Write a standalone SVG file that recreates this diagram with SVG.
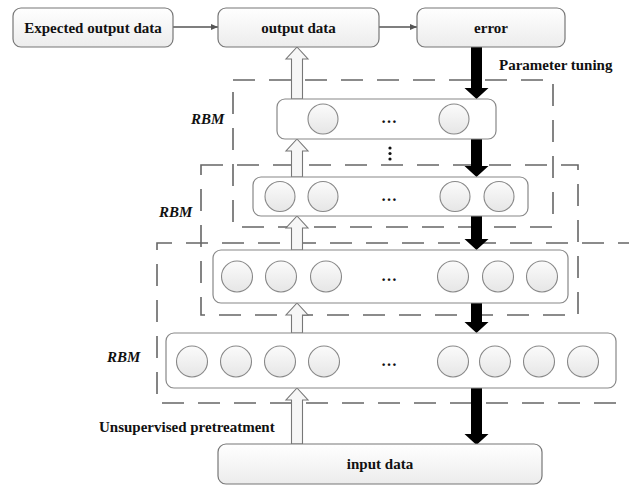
<svg xmlns="http://www.w3.org/2000/svg" width="629" height="487" viewBox="0 0 629 487">
<defs>
<linearGradient id="gTop" x1="0" y1="0" x2="0" y2="1">
<stop offset="0" stop-color="#ffffff"/>
<stop offset="1" stop-color="#ececec"/>
</linearGradient>
<linearGradient id="gC" x1="0" y1="0" x2="0" y2="1">
<stop offset="0" stop-color="#fbfbfb"/>
<stop offset="1" stop-color="#e6e6e6"/>
</linearGradient>
<marker id="ah" markerWidth="8" markerHeight="8" refX="7" refY="4" orient="auto" markerUnits="userSpaceOnUse">
<path d="M0,1 L7,4 L0,7 Z" fill="#555"/>
</marker>
</defs>
<style>
.box{fill:url(#gTop);stroke:#777;stroke-width:1.2}
.layer{fill:#fff;stroke:#888;stroke-width:1.2}
.node{fill:url(#gC);stroke:#888;stroke-width:1.1}
.dash{fill:none;stroke:#666;stroke-width:1.6;stroke-dasharray:22 14}
.t{font-family:"Liberation Serif",serif;font-weight:bold;font-size:15px;fill:#111}
.rbm{font-family:"Liberation Serif",serif;font-weight:bold;font-style:italic;font-size:15px;fill:#111}
.up{fill:#f6f6f6;stroke:#777;stroke-width:1.1}
.down{fill:#000}
.link{stroke:#555;stroke-width:1.3;fill:none}
.ell{font-family:"Liberation Serif",serif;font-weight:bold;font-size:16px;fill:#111}
</style>
<rect width="629" height="487" fill="#fff"/>

<g id="rbm-frames">
<rect class="dash" x="233" y="80" width="320" height="147"/>
<rect class="dash" x="201" y="165" width="377" height="150"/>
<path class="dash" d="M640,243 H157 V403 H640"/>
</g>

<g id="connectors">
<line class="link" x1="173" y1="27" x2="218" y2="27" marker-end="url(#ah)"/>
<line class="link" x1="379" y1="27" x2="417" y2="27" marker-end="url(#ah)"/>
<path class="up" d="M291.5,444 V400 H286 L297,388 L308,400 H302.5 V444 Z"/>
<path class="up" d="M291.5,333 V315 H286 L297,303 L308,315 H302.5 V333 Z"/>
<path class="up" d="M291.5,250 V228 H286 L297,216 L308,228 H302.5 V250 Z"/>
<path class="up" d="M291.5,177 V151 H286 L297,139 L308,151 H302.5 V177 Z"/>
<path class="up" d="M291.5,99 V59 H286 L297,47 L308,59 H302.5 V99 Z"/>
<path class="down" d="M471,47 V88 H464.5 L476.5,99 L488.5,88 H482 V47 Z"/>
<path class="down" d="M471,139 V166 H464.5 L476.5,177 L488.5,166 H482 V139 Z"/>
<path class="down" d="M471,216 V239 H464.5 L476.5,250 L488.5,239 H482 V216 Z"/>
<path class="down" d="M471,303 V322 H464.5 L476.5,333 L488.5,322 H482 V303 Z"/>
<path class="down" d="M471,388 V434 H464.5 L476.5,445 L488.5,434 H482 V388 Z"/>
</g>

<g id="expected-output">
<rect class="box" x="13" y="8" width="160" height="39" rx="8"/>
<text class="t" x="93" y="32.5" text-anchor="middle">Expected output data</text>
</g>
<g id="output-data">
<rect class="box" x="218" y="8" width="161" height="39" rx="8"/>
<text class="t" x="298.5" y="32.5" text-anchor="middle">output data</text>
</g>
<g id="error">
<rect class="box" x="417" y="8" width="148" height="39" rx="8"/>
<text class="t" x="491" y="32.5" text-anchor="middle">error</text>
</g>
<g id="input-data">
<rect class="box" x="218" y="444" width="324" height="40" rx="8"/>
<text class="t" x="380" y="469" text-anchor="middle">input data</text>
</g>

<g id="layer1">
<rect class="layer" x="277" y="99" width="219" height="40" rx="8"/>
<circle class="node" cx="323" cy="119" r="15"/>
<circle class="node" cx="454" cy="119" r="15"/>
<text class="ell" x="389" y="123" text-anchor="middle">…</text>
</g>
<g id="vdots">
<circle cx="390" cy="148" r="1.6" fill="#111"/>
<circle cx="390" cy="153.5" r="1.6" fill="#111"/>
<circle cx="390" cy="159" r="1.6" fill="#111"/>
</g>
<g id="layer2">
<rect class="layer" x="253" y="177" width="275" height="39" rx="8"/>
<circle class="node" cx="280" cy="196.5" r="15"/>
<circle class="node" cx="323" cy="196.5" r="15"/>
<circle class="node" cx="455" cy="196.5" r="15"/>
<circle class="node" cx="499" cy="196.5" r="15"/>
<text class="ell" x="389" y="200.5" text-anchor="middle">…</text>
</g>
<g id="layer3">
<rect class="layer" x="213" y="250" width="355" height="53" rx="8"/>
<circle class="node" cx="237" cy="276.5" r="15.5"/>
<circle class="node" cx="281" cy="276.5" r="15.5"/>
<circle class="node" cx="326" cy="276.5" r="15.5"/>
<circle class="node" cx="453" cy="276.5" r="15.5"/>
<circle class="node" cx="498" cy="276.5" r="15.5"/>
<circle class="node" cx="542" cy="276.5" r="15.5"/>
<text class="ell" x="389" y="280.5" text-anchor="middle">…</text>
</g>
<g id="layer4">
<rect class="layer" x="166" y="333" width="450" height="55" rx="8"/>
<circle class="node" cx="192" cy="361.5" r="15.5"/>
<circle class="node" cx="236" cy="361.5" r="15.5"/>
<circle class="node" cx="280" cy="361.5" r="15.5"/>
<circle class="node" cx="324" cy="361.5" r="15.5"/>
<circle class="node" cx="453" cy="361.5" r="15.5"/>
<circle class="node" cx="495" cy="361.5" r="15.5"/>
<circle class="node" cx="539" cy="361.5" r="15.5"/>
<circle class="node" cx="583" cy="361.5" r="15.5"/>
<text class="ell" x="389" y="365.5" text-anchor="middle">…</text>
</g>

<g id="labels">
<text class="t" x="499" y="70">Parameter tuning</text>
<text class="t" x="99" y="432">Unsupervised pretreatment</text>
<text class="rbm" x="191" y="124">RBM</text>
<text class="rbm" x="159" y="217">RBM</text>
<text class="rbm" x="107" y="362">RBM</text>
</g>
</svg>
